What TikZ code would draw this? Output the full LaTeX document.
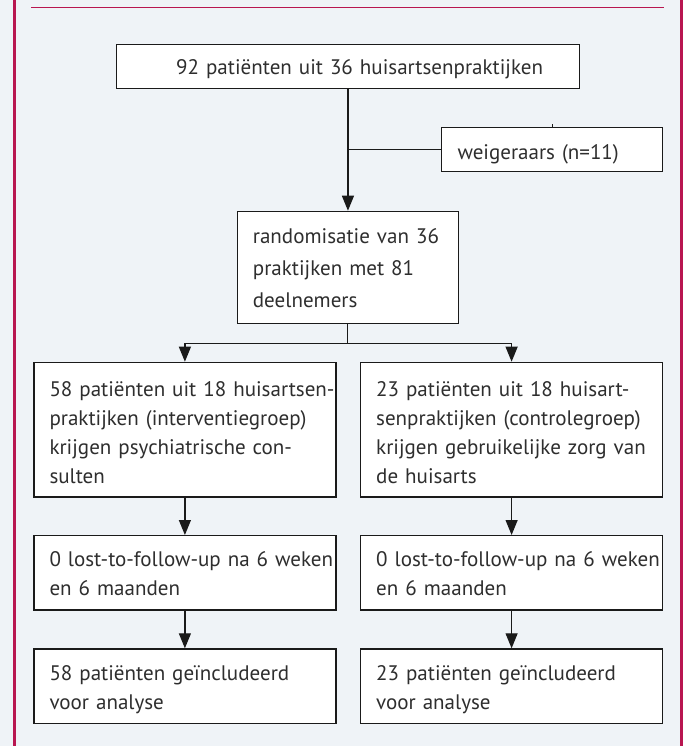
\documentclass[tikz,border=0pt]{standalone}
\usepackage{fontspec}
\setmainfont{PT Sans}
\usetikzlibrary{arrows.meta,calc}
\definecolor{framecol}{RGB}{184,22,80}
\definecolor{bgcol}{HTML}{EFF3F7}
\definecolor{inkcol}{HTML}{1A1A1A}
\definecolor{txtcol}{HTML}{2E2E2E}
\newlength{\refwd}
\begin{document}
\settowidth{\refwd}{\fontsize{10pt}{12pt}\selectfont 0 lost-to-follow-up na 6 weken}%
\pgfmathsetmacro{\fsz}{10*278/\refwd}%
\begin{tikzpicture}[x=1pt,y=-1pt]
\tikzset{
  box/.style={draw=inkcol, fill=white, line width=1.2pt, inner sep=0pt, anchor=north west},
  txt/.style={anchor=base west, inner sep=0pt, align=left, text width=#1, text=txtcol, font=\fontsize{\fsz pt}{29pt}\selectfont},
  conn/.style={draw=inkcol, line width=1.2pt},
  arr/.style={conn, -{Triangle[length=15pt,width=12pt]}},
  framerule/.style={color=framecol},
}
% background and frame
\fill[bgcol] (0,0) rectangle (683,746);
\useasboundingbox (0,0) rectangle (683,746);
\draw[framerule, line width=2.4pt] (14.3,0) -- (14.3,746);
\draw[framerule, line width=3pt] (681.5,0) -- (681.5,746);
\draw[framerule, line width=1.5pt] (31,7.3) -- (664,7.3);

% boxes
\node[box, minimum width=463.3pt, minimum height=44pt] (top) at (115.7,44) {};
\node[box, minimum width=221pt, minimum height=44pt] (weig) at (441,127.3) {};
\node[box, minimum width=221pt, minimum height=112pt] (rand) at (236.7,210.7) {};
\node[box, minimum width=302pt, minimum height=134.7pt] (L1) at (33.3,361.7) {};
\node[box, minimum width=302pt, minimum height=134.7pt] (R1) at (360,361.7) {};
\node[box, minimum width=302pt, minimum height=74.3pt] (L2) at (33.3,535) {};
\node[box, minimum width=302pt, minimum height=74.3pt] (R2) at (360,535) {};
\node[box, minimum width=302pt, minimum height=74.4pt] (L3) at (33.3,648.3) {};
\node[box, minimum width=302pt, minimum height=74.4pt] (R3) at (360,648.3) {};

% texts
\node[txt=400pt] (toptxt) at (176,75) {92 patiënten uit 36 huisartsenpraktijken};
\node[txt=200pt] (weigtxt) at (457.3,159.3) {weigeraars (n=11)};
\node[txt=200pt, font=\fontsize{\fsz pt}{32pt}\selectfont] (randtxt) at (252.7,243.3) {randomisatie van 36\\praktijken met 81\\deelnemers};
\node[txt=300pt] (L1txt) at (49.3,396.7) {58 patiënten uit 18 huisartsen-\\praktijken (interventiegroep)\\krijgen psychiatrische con-\\sulten};
\node[txt=300pt] (R1txt) at (376,396.7) {23 patiënten uit 18 huisart-\\senpraktijken (controlegroep)\\krijgen gebruikelijke zorg van\\de huisarts};
\node[txt=300pt] (L2txt) at (49.3,566.7) {0 lost-to-follow-up na 6 weken\\en 6 maanden};
\node[txt=300pt] (R2txt) at (376,566.7) {0 lost-to-follow-up na 6 weken\\en 6 maanden};
\node[txt=300pt] (L3txt) at (49.3,680) {58 patiënten geïncludeerd\\voor analyse};
\node[txt=300pt] (R3txt) at (376,680) {23 patiënten geïncludeerd\\voor analyse};

% connectors
\draw[arr] (top.south) -- (top.south |- rand.north);
\draw[conn] (top.south |- weig.west) -- (weig.west);
\draw[conn] (weig.north) -- ++(0,-3);
\coordinate (split) at ($(rand.south)+(0,19.3)$);
\draw[conn] (rand.south) -- (split);
\draw[arr] (split) -| (L1.north);
\draw[arr] (split) -| (R1.north);
\draw[arr] (L1.south) -- (L2.north);
\draw[arr] (R1.south) -- (R2.north);
\draw[arr] (L2.south) -- (L3.north);
\draw[arr] (R2.south) -- (R3.north);
\end{tikzpicture}
\end{document}
